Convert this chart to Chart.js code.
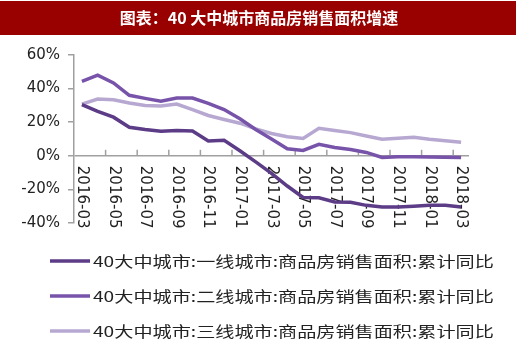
<!DOCTYPE html>
<html>
<head>
<meta charset="utf-8">
<script src="https://cdn.jsdelivr.net/npm/chart.js@4.4.1/dist/chart.umd.min.js"></script>
<style>
  html, body { margin:0; padding:0; background:#fff; }
</style>
</head>
<body>
<canvas id="salesChart" width="520" height="345"></canvas>
<script>
const months = ['2016-03','2016-04','2016-05','2016-06','2016-07','2016-08','2016-09','2016-10','2016-11','2016-12',
                '2017-01','2017-02','2017-03','2017-04','2017-05','2017-06','2017-07','2017-08','2017-09','2017-10',
                '2017-11','2017-12','2018-01','2018-02','2018-03'];
const tier1 = [30.5, 26.5, 23, 17, 15.6, 14.6, 15, 14.8, 8.8, 9.2, 3, -3.6, -10.5, -18, -24.8, -25, -27.5, -27.7, -29.5, -30.5, -30.5, -30, -29.5, -29.5, -30.5];
const tier2 = [44.3, 48, 43.4, 36, 34.2, 32.5, 34.4, 34.4, 31.2, 27.5, 22, 15.7, 10, 4.2, 3.2, 6.8, 5, 3.8, 2, -1, -0.6, -0.6, -0.7, -0.8, -1];
const tier3 = [30.8, 33.8, 33.4, 31.4, 30, 29.6, 30.8, 27.5, 24, 21.6, 19.4, 16, 13.3, 11.4, 10.3, 16.4, 15, 13.8, 11.8, 9.8, 10.4, 11, 9.8, 9, 8];
const seriesNames = ['40大中城市:一线城市:商品房销售面积:累计同比',
                     '40大中城市:二线城市:商品房销售面积:累计同比',
                     '40大中城市:三线城市:商品房销售面积:累计同比'];
const yMin = -40, yMax = 60, yStep = 20;
const titleText = '图表：40 大中城市商品房销售面积增速';

const colors = ['#5c3b87', '#7853aa', '#b7a8d2'];
const axisColor = '#a0a0a0';
const tickFont = '15px "DejaVu Sans"';

// title bar, rotated month labels, inner tick marks and legend
const decor = {
  id: 'decor',
  beforeDraw(chart) {
    const ctx = chart.ctx;
    ctx.save();
    ctx.fillStyle = '#fff';
    ctx.fillRect(0, 0, chart.width, chart.height);
    ctx.fillStyle = '#990000';
    ctx.fillRect(0, 1, 516, 34);
    ctx.fillStyle = '#fff';
    ctx.font = 'bold 16px "Noto Sans CJK SC"';
    ctx.textAlign = 'center';
    ctx.textBaseline = 'middle';
    ctx.fillText(titleText, 259, 18);
    ctx.restore();
  },
  beforeDatasetsDraw(chart) {
    const ctx = chart.ctx, x = chart.scales.x, y = chart.scales.y;
    const y0 = y.getPixelForValue(0);
    ctx.save();
    ctx.strokeStyle = axisColor;
    ctx.lineWidth = 1.5;
    for (let i = 2; i < months.length; i += 2) {
      const bx = (x.getPixelForValue(i - 1) + x.getPixelForValue(i)) / 2;
      ctx.beginPath();
      ctx.moveTo(bx, y0);
      ctx.lineTo(bx, y0 - 6);
      ctx.stroke();
    }
    ctx.fillStyle = '#222';
    ctx.font = tickFont;
    ctx.textAlign = 'left';
    ctx.textBaseline = 'middle';
    for (let i = 0; i < months.length; i += 2) {
      ctx.save();
      ctx.translate(x.getPixelForValue(i), y0 + 10);
      ctx.rotate(Math.PI / 2);
      ctx.fillText(months[i], 0, 0);
      ctx.restore();
    }
    ctx.restore();
  },
  afterDraw(chart) {
    const ctx = chart.ctx, area = chart.chartArea;
    ctx.save();
    ctx.font = '14.5px "Noto Sans CJK SC"';
    ctx.textAlign = 'left';
    ctx.textBaseline = 'middle';
    seriesNames.forEach((name, k) => {
      const ly = area.bottom + 38 + k * 35;
      ctx.strokeStyle = colors[k];
      ctx.lineWidth = 3.5;
      ctx.beginPath();
      ctx.moveTo(area.left - 24, ly);
      ctx.lineTo(area.left + 16, ly);
      ctx.stroke();
      // the source picture is stretched sideways, so stretch the text too
      ctx.save();
      ctx.translate(area.left + 19, ly);
      ctx.scale(1.32, 1);
      ctx.fillStyle = '#222';
      ctx.fillText(name, 0, 0);
      ctx.restore();
    });
    ctx.restore();
  }
};

const line = (data, k) => ({
  label: seriesNames[k], data, borderColor: colors[k], backgroundColor: colors[k],
  borderWidth: 3.5, pointRadius: 0, tension: 0, fill: false
});

new Chart(document.getElementById('salesChart'), {
  type: 'line',
  data: { labels: months, datasets: [line(tier1, 0), line(tier2, 1), line(tier3, 2)] },
  options: {
    responsive: false,
    animation: false,
    layout: { padding: { top: 55, bottom: 122, left: 0, right: 51 } },
    plugins: { legend: { display: false }, title: { display: false }, tooltip: { enabled: false } },
    scales: {
      x: {
        offset: true,
        ticks: { display: false },
        grid: { display: false },
        border: { display: false },
        afterFit: s => { s.height = 0; }
      },
      y: {
        min: yMin, max: yMax,
        ticks: { stepSize: yStep, callback: v => v + '%', font: { family: 'DejaVu Sans', size: 15 }, color: '#222', padding: 8 },
        grid: {
          color: c => c.tick && c.tick.value === 0 ? axisColor : 'rgba(0,0,0,0)',
          tickColor: axisColor, tickLength: 6, lineWidth: 1.5
        },
        border: { display: true, color: axisColor, width: 1.5 },
        afterFit: s => { s.width = 74; }
      }
    }
  },
  plugins: [decor]
});
</script>
</body>
</html>
